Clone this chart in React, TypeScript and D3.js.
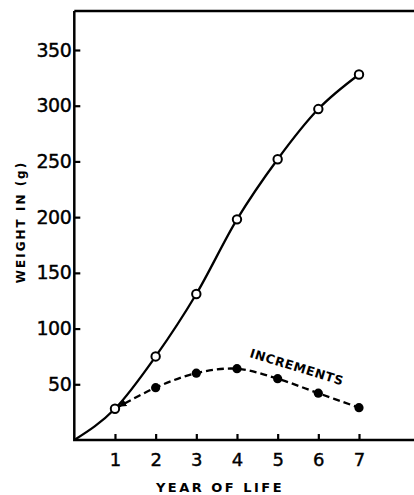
import React, { useRef, useEffect } from 'react';
import * as d3 from 'd3';

// values
const years = [1, 2, 3, 4, 5, 6, 7];
const weight = [28, 75, 131, 198, 252, 297, 328];
const increments = [28, 47, 60, 64, 55, 42, 29];
const yTicks = [50, 100, 150, 200, 250, 300, 350];

const W = 414;
const H = 495;

export default function App() {
  const svgRef = useRef<SVGSVGElement>(null);

  useEffect(() => {
    if (!svgRef.current) return;
    const svg = d3.select(svgRef.current);
    svg.selectAll('*').remove();

    const x = d3.scaleLinear().domain([0, 7]).range([74.3, 359]);
    const y = d3.scaleLinear().domain([0, 350]).range([440, 50]);
    const left = x(0);
    const top = 11;

    // arrow head for the increments line
    svg.append('defs').append('marker')
      .attr('id', 'arr')
      .attr('markerUnits', 'userSpaceOnUse')
      .attr('viewBox', '0 -5 10 10')
      .attr('markerWidth', 10)
      .attr('markerHeight', 10)
      .attr('refX', 12)
      .attr('refY', 0)
      .attr('orient', 'auto-start-reverse')
      .append('path')
      .attr('d', 'M0,-3.5L8,0L0,3.5Z')
      .attr('fill', '#000');

    // frame: top line, left and bottom axes
    svg.append('path')
      .attr('d', `M${left},${top}H${W}M${left},${top}V${y(0)}H${W}`)
      .attr('fill', 'none')
      .attr('stroke', '#000')
      .attr('stroke-width', 2.5);

    // y axis
    const ya = svg.append('g')
      .attr('transform', `translate(${left},0)`)
      .call(d3.axisLeft(y).tickValues(yTicks).tickSize(-6).tickPadding(3).tickFormat(d3.format('d')));
    ya.select('.domain').remove();
    ya.selectAll('line').attr('stroke-width', 2.2);
    ya.selectAll('text')
      .attr('font-family', 'DejaVu Sans')
      .attr('font-size', 19)
      .attr('letter-spacing', -0.5)
      .attr('stroke', '#000')
      .attr('stroke-width', 0.4)
      .attr('fill', '#000');

    // x axis
    const xa = svg.append('g')
      .attr('transform', `translate(0,${y(0)})`)
      .call(d3.axisBottom(x).tickValues(years).tickSize(-6).tickFormat(d3.format('d')));
    xa.select('.domain').remove();
    xa.selectAll('line').attr('stroke-width', 2.2);
    xa.selectAll('text')
      .attr('y', 26)
      .attr('dy', 0)
      .attr('font-family', 'DejaVu Sans')
      .attr('font-size', 18)
      .attr('stroke', '#000')
      .attr('stroke-width', 0.4)
      .attr('fill', '#000');

    // axis titles
    svg.append('text')
      .attr('transform', 'translate(25,222) rotate(-90)')
      .attr('text-anchor', 'middle')
      .attr('font-family', 'DejaVu Sans')
      .attr('font-weight', 'bold')
      .attr('font-size', 12)
      .attr('letter-spacing', 2)
      .text('WEIGHT IN (g)');

    svg.append('text')
      .attr('x', 220)
      .attr('y', 492)
      .attr('text-anchor', 'middle')
      .attr('font-family', 'DejaVu Sans')
      .attr('font-weight', 'bold')
      .attr('font-size', 13)
      .attr('letter-spacing', 2.5)
      .text('YEAR OF LIFE');

    // weight curve from origin
    const wPts: [number, number][] = [[0, 0], ...years.map((d, i) => [d, weight[i]] as [number, number])];
    const line = d3.line<[number, number]>()
      .x(d => x(d[0]))
      .y(d => y(d[1]))
      .curve(d3.curveMonotoneX);

    svg.append('path')
      .attr('d', line(wPts))
      .attr('fill', 'none')
      .attr('stroke', '#000')
      .attr('stroke-width', 2.3);

    // increments, dashed
    const iPts = years.map((d, i) => [d, increments[i]] as [number, number]);
    svg.append('path')
      .attr('d', line.curve(d3.curveCatmullRom)(iPts))
      .attr('fill', 'none')
      .attr('stroke', '#000')
      .attr('stroke-width', 2.3)
      .attr('stroke-dasharray', '7,4')
      .attr('marker-start', 'url(#arr)');

    svg.append('g')
      .selectAll('circle')
      .data(iPts.slice(1))
      .enter().append('circle')
      .attr('cx', d => x(d[0]))
      .attr('cy', d => y(d[1]))
      .attr('r', 4.6)
      .attr('fill', '#000');

    svg.append('g')
      .selectAll('circle')
      .data(wPts.slice(1))
      .enter().append('circle')
      .attr('cx', d => x(d[0]))
      .attr('cy', d => y(d[1]))
      .attr('r', 4.2)
      .attr('fill', '#fff')
      .attr('stroke', '#000')
      .attr('stroke-width', 2);

    svg.append('text')
      .attr('transform', 'translate(249,357) rotate(17)')
      .attr('font-family', 'DejaVu Sans')
      .attr('font-weight', 'bold')
      .attr('font-size', 12.5)
      .attr('letter-spacing', 0.6)
      .text('INCREMENTS');
  }, []);

  return (
    <svg
      ref={svgRef}
      width={W}
      height={H}
      style={{ position: 'absolute', left: 0, top: 0, background: '#fff' }}
    />
  );
}
